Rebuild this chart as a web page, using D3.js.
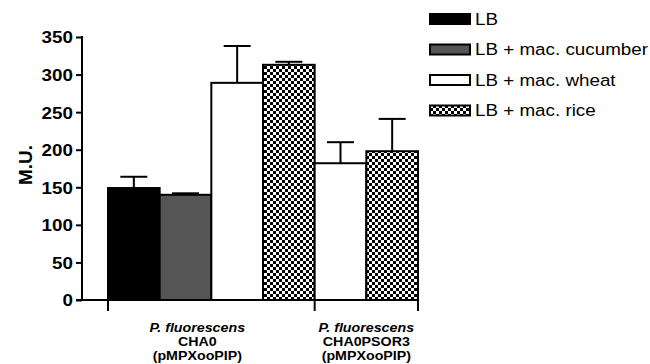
<!DOCTYPE html>
<html>
<head>
<meta charset="utf-8">
<script src="https://cdn.jsdelivr.net/npm/d3@7"></script>
<style>
  body { margin: 0; background: #fff; }
  text { font-family: "Liberation Sans", Arial, sans-serif; }
</style>
</head>
<body>
<script>
// data
var groups = ["CHA0", "CHA0PSOR3"];
var groupLines = [["P. fluorescens", "CHA0", "(pMPXooPIP)"], ["P. fluorescens", "CHA0PSOR3", "(pMPXooPIP)"]];
var series = ["LB", "LB + mac. cucumber", "LB + mac. wheat", "LB + mac. rice"];
var valuesCHA0 = [149, 140, 289, 313];
var errorsCHA0 = [15, 2, 49, 4];
var valuesPSOR3 = [null, null, 182, 198];
var errorsPSOR3 = [null, null, 28, 43];
var yTicks = [0, 50, 100, 150, 200, 250, 300, 350];

var width = 650, height = 364;
var stretch = 1.14; // the picture's text is a bit wide

var svg = d3.select("body").append("svg").attr("width", width).attr("height", height);

var defs = svg.append("defs");
var pat = defs.append("pattern").attr("id", "checker").attr("patternUnits", "userSpaceOnUse")
  .attr("width", 6).attr("height", 6);
pat.append("rect").attr("width", 6).attr("height", 6).attr("fill", "#fff");
pat.append("rect").attr("width", 3).attr("height", 3).attr("fill", "#000");
pat.append("rect").attr("x", 3).attr("y", 3).attr("width", 3).attr("height", 3).attr("fill", "#000");

var fills = ["#000", "#555", "#fff", "url(#checker)"];

// flatten the bars, skipping the missing ones
var bars = [];
[valuesCHA0, valuesPSOR3].forEach(function(vals, g) {
  var errs = g == 0 ? errorsCHA0 : errorsPSOR3;
  vals.forEach(function(v, s) {
    if (v != null) bars.push({ key: g + "-" + s, g: g, s: s, v: v, e: errs[s] });
  });
});

var x = d3.scaleBand().domain(bars.map(function(d) { return d.key; })).range([108, 418]).padding(0);
var y = d3.scaleLinear().domain([0, 350]).range([300, 37]);

// bars
svg.append("g").selectAll("rect").data(bars).enter().append("rect")
  .attr("x", function(d) { return x(d.key); })
  .attr("y", function(d) { return y(d.v); })
  .attr("width", x.bandwidth())
  .attr("height", function(d) { return y(0) - y(d.v); })
  .attr("fill", function(d) { return fills[d.s]; })
  .attr("stroke", "#000").attr("stroke-width", 2);

// error bars (upper only)
var eb = svg.append("g").attr("stroke", "#000").attr("stroke-width", 2);
bars.forEach(function(d) {
  var cx = x(d.key) + x.bandwidth() / 2;
  eb.append("line").attr("x1", cx).attr("x2", cx).attr("y1", y(d.v)).attr("y2", y(d.v + d.e));
  eb.append("line").attr("x1", cx - 13.5).attr("x2", cx + 13.5).attr("y1", y(d.v + d.e)).attr("y2", y(d.v + d.e));
});

// y axis
var yAxis = d3.axisLeft(y).tickValues(yTicks).tickSize(6).tickPadding(4);
var gy = svg.append("g").attr("transform", "translate(82,0)").call(yAxis);
gy.select(".domain").attr("stroke-width", 2).attr("d", "M0,36V300");
gy.selectAll(".tick line").attr("stroke-width", 2);
gy.selectAll(".tick text").remove();
gy.selectAll(".tick").append("g")
  .attr("transform", "translate(-9,0) scale(" + stretch + ",1)")
  .append("text").attr("text-anchor", "end").attr("dy", "0.36em")
  .style("font-size", "16.5px").style("font-weight", "bold").attr("fill", "#000")
  .text(function(d) { return d; });

// x axis: line with ticks at group edges
var edges = [0, 4, 6];
var gx = svg.append("g").attr("stroke", "#000").attr("stroke-width", 2);
gx.append("line").attr("x1", 76).attr("x2", 419).attr("y1", 300).attr("y2", 300);
edges.forEach(function(i) {
  var px = i < bars.length ? x(bars[i].key) : x.range()[1];
  gx.append("line").attr("x1", px).attr("x2", px).attr("y1", 300).attr("y2", 311);
});

// group labels
var labelNudge = [-14, 0];
groups.forEach(function(gname, g) {
  var gb = bars.filter(function(d) { return d.g == g; });
  var cx = (x(gb[0].key) + x(gb[gb.length - 1].key) + x.bandwidth()) / 2 + labelNudge[g];
  groupLines[g].forEach(function(line, k) {
    svg.append("g").attr("transform", "translate(" + cx + "," + (332 + k * 14) + ") scale(" + stretch + ",1)")
      .append("text").attr("text-anchor", "middle")
      .style("font-size", "12.5px").style("font-weight", "bold")
      .style("font-style", k == 0 ? "italic" : "normal")
      .text(line);
  });
});

// y title
svg.append("text").attr("transform", "translate(32,165) rotate(-90)")
  .attr("text-anchor", "middle").style("font-size", "19px").style("font-weight", "bold")
  .text("M.U.");

// legend
var leg = svg.append("g").attr("transform", "translate(430,0)");
series.forEach(function(s, i) {
  var cy = 19 + i * 30.5;
  leg.append("rect").attr("x", 0).attr("y", cy - 5).attr("width", 40).attr("height", 10)
    .attr("fill", fills[i]).attr("stroke", "#000").attr("stroke-width", 2);
  leg.append("g").attr("transform", "translate(45," + cy + ") scale(" + stretch + ",1)")
    .append("text").attr("dy", "0.36em").style("font-size", "16.5px").text(s);
});
</script>
</body>
</html>
